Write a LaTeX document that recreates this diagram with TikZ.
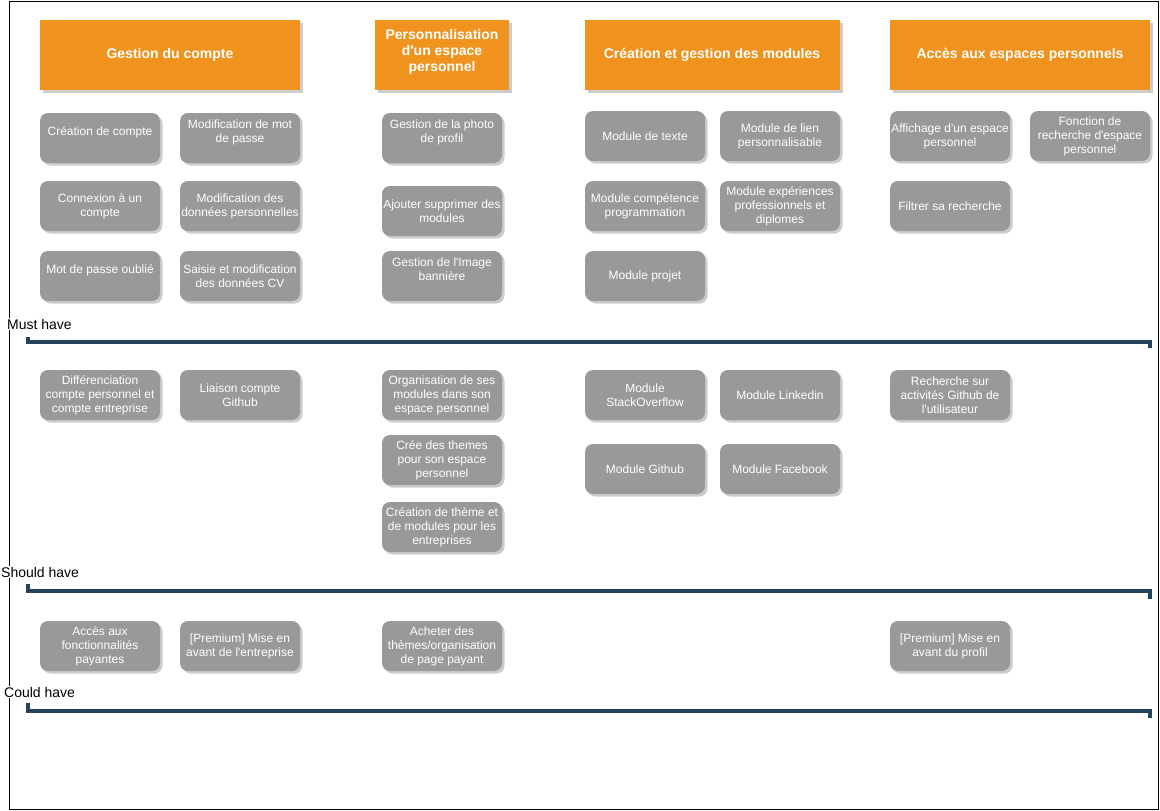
\documentclass[tikz,border=0pt]{standalone}
\usepackage{fontspec}
\setmainfont{Liberation Sans}[Ligatures=TeXOff]
\usetikzlibrary{shadows}

\definecolor{hdorange}{HTML}{F0931E}
\definecolor{taskgray}{HTML}{999999}
\definecolor{bracketblue}{HTML}{23445D}

\begin{document}
\begin{tikzpicture}[x=1pt,y=-1pt,
    header/.style={fill=hdorange, text=white, font=\fontsize{14}{16}\selectfont\bfseries,
        align=center, minimum height=70, inner sep=0,
        drop shadow={shadow xshift=3pt, shadow yshift=-3pt, fill=black!20, opacity=1}},
    task/.style={fill=taskgray, rounded corners=8, text=white, font=\fontsize{12}{14}\selectfont,
        align=center, minimum width=120, minimum height=50, inner sep=0,
        drop shadow={shadow xshift=2.5pt, shadow yshift=-2.5pt, fill=black!20, opacity=1}},
    level/.style={fill=white, anchor=west, inner sep=1, font=\fontsize{14}{16}\selectfont},
    bracket/.style={draw=bracketblue, line width=4}]
    \useasboundingbox (0,0) rectangle (1160,811);
    \draw (9,1) rectangle (1158,809);

    % categories
    \node[header, minimum width=260] (hcompte) at (170,55) {Gestion du compte};
    \node[header, minimum width=134] (hespace) at (442,55) {Personnalisation\\d'un espace\\personnel\\[-6pt]\mbox{}};
    \node[header, minimum width=255] (hmodule) at (712,55) {Création et gestion des modules};
    \node[header, minimum width=260] (hacces) at (1020,55) {Accès aux espaces personnels};

    % must have
    \node[task] (cpt1) at (100,138) {Création de compte\\\mbox{}};
    \node[task] (cpt2) at (240,138) {Modification de mot\\de passe\\\mbox{}};
    \node[task] (cpt3) at (100,206) {Connexion à un\\compte};
    \node[task] (cpt4) at (240,206) {Modification des\\données personnelles};
    \node[task] (cpt5) at (100,276) {Mot de passe oublié\\\mbox{}};
    \node[task] (cpt6) at (240,276) {Saisie et modification\\des données CV};
    \node[task] (esp1) at (442,138) {Gestion de la photo\\de profil\\\mbox{}};
    \node[task] (esp2) at (442,211) {Ajouter supprimer des\\modules};
    \node[task] (esp3) at (442,276) {Gestion de l'Image\\bannière\\\mbox{}};
    \node[task] (mod1) at (645,136) {Module de texte};
    \node[task] (mod2) at (780,136) {Module de lien\\personnalisable};
    \node[task] (mod3) at (645,206) {Module compétence\\programmation};
    \node[task] (mod4) at (780,206) {Module expériences\\professionnels et\\diplomes};
    \node[task] (mod5) at (645,276) {Module projet};
    \node[task] (acc1) at (950,136) {Affichage d'un espace\\personnel};
    \node[task] (acc2) at (1090,136) {Fonction de\\recherche d'espace\\personnel};
    \node[task] (acc3) at (950,206) {Filtrer sa recherche};

    \node[level] (must) at (6,324) {Must have};
    \draw[bracket] (28,337) -- (28,342) -- (1150,342) -- (1150,348);

    % should have
    \node[task] (cpt7) at (100,395) {Différenciation\\compte personnel et\\compte entreprise};
    \node[task] (cpt8) at (240,395) {Liaison compte\\Github};
    \node[task] (esp4) at (442,395) {Organisation de ses\\modules dans son\\espace personnel};
    \node[task] (esp5) at (442,460) {Crée des themes\\pour son espace\\personnel};
    \node[task] (esp6) at (442,527) {Création de thème et\\de modules pour les\\entreprises};
    \node[task] (mod6) at (645,395) {Module\\StackOverflow};
    \node[task] (mod7) at (780,395) {Module Linkedin};
    \node[task] (mod8) at (645,469) {Module Github};
    \node[task] (mod9) at (780,469) {Module Facebook};
    \node[task] (acc4) at (950,395) {Recherche sur\\activités Github de\\l'utilisateur};

    \node[level] (should) at (0,572) {Should have};
    \draw[bracket] (28,584) -- (28,591) -- (1150,591) -- (1150,599);

    % could have
    \node[task] (cpt9) at (100,646) {Accès aux\\fonctionnalités\\payantes};
    \node[task] (cpt10) at (240,646) {[Premium] Mise en\\avant de l'entreprise};
    \node[task] (esp7) at (442,646) {Acheter des\\thèmes/organisation\\de page payant};
    \node[task] (acc5) at (950,646) {[Premium] Mise en\\avant du profil};

    \node[level] (could) at (3,692) {Could have};
    \draw[bracket] (28,703) -- (28,711) -- (1150,711) -- (1150,718);
\end{tikzpicture}
\end{document}
